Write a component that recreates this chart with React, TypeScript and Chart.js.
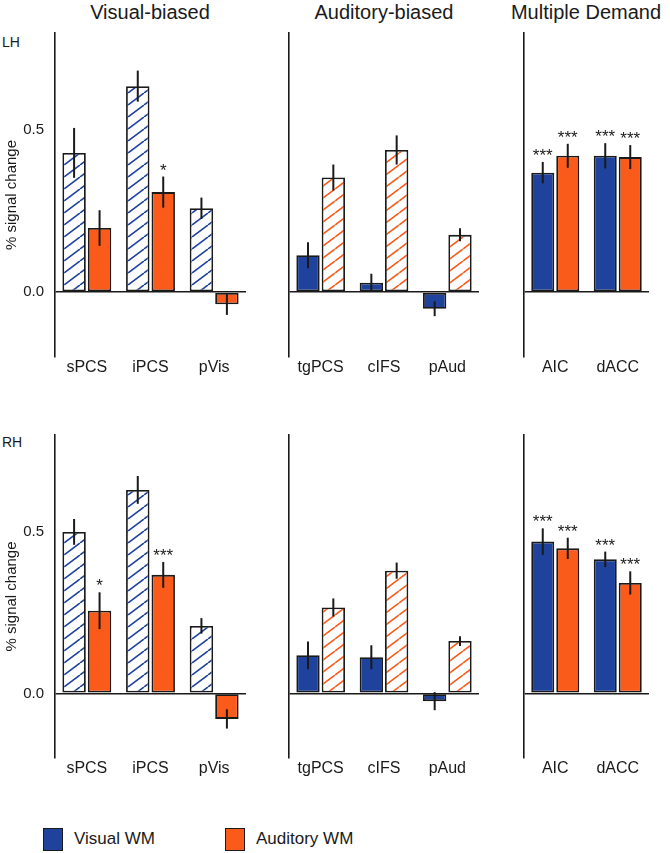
import React, { useEffect, useRef } from 'react';
import { Chart, registerables } from 'chart.js';

Chart.register(...registerables);

const BLUE = '#1f429d';
const ORANGE = '#fa5a1a';
const INK = '#1a1a1a';
const FONT = "'Liberation Sans', Arial, Helvetica, sans-serif";

// Categories
const visualCats = ['sPCS', 'iPCS', 'pVis'];
const auditoryCats = ['tgPCS', 'cIFS', 'pAud'];
const mdCats = ['AIC', 'dACC'];

// Y ticks shown
const yTickValues = [0, 0.5];
const yMin = -0.2;
const yMax = 0.8;

// LH – Visual-biased
const lhVisVisWM = [0.43, 0.636, 0.259];
const lhVisVisWMErr = [0.077, 0.048, 0.033];
const lhVisVisWMStars = ['', '', ''];
const lhVisAudWM = [0.198, 0.309, -0.037];
const lhVisAudWMErr = [0.055, 0.048, 0.033];
const lhVisAudWMStars = ['', '*', ''];

// LH – Auditory-biased
const lhAudVisWM = [0.114, 0.029, -0.051];
const lhAudVisWMErr = [0.04, 0.028, 0.023];
const lhAudVisWMStars = ['', '', ''];
const lhAudAudWM = [0.354, 0.439, 0.177];
const lhAudAudWMErr = [0.04, 0.045, 0.02];
const lhAudAudWMStars = ['', '', ''];

// LH – Multiple Demand
const lhMdVisWM = [0.369, 0.421];
const lhMdVisWMErr = [0.033, 0.039];
const lhMdVisWMStars = ['***', '***'];
const lhMdAudWM = [0.421, 0.417];
const lhMdAudWMErr = [0.037, 0.037];
const lhMdAudWMStars = ['***', '***'];

// RH – Visual-biased
const rhVisVisWM = [0.5, 0.63, 0.209];
const rhVisVisWMErr = [0.04, 0.043, 0.024];
const rhVisVisWMStars = ['', '', ''];
const rhVisAudWM = [0.256, 0.367, -0.079];
const rhVisAudWMErr = [0.057, 0.04, 0.03];
const rhVisAudWMStars = ['*', '***', ''];

// RH – Auditory-biased
const rhAudVisWM = [0.118, 0.112, -0.024];
const rhAudVisWMErr = [0.043, 0.037, 0.028];
const rhAudVisWMStars = ['', '', ''];
const rhAudAudWM = [0.266, 0.38, 0.162];
const rhAudAudWMErr = [0.028, 0.025, 0.015];
const rhAudAudWMStars = ['', '', ''];

// RH – Multiple Demand
const rhMdVisWM = [0.47, 0.415];
const rhMdVisWMErr = [0.041, 0.024];
const rhMdVisWMStars = ['***', '***'];
const rhMdAudWM = [0.449, 0.342];
const rhMdAudWMErr = [0.033, 0.036];
const rhMdAudWMStars = ['***', '***'];

function makeHatch(color: string): CanvasPattern | string {
  const c = document.createElement('canvas');
  c.width = 16;
  c.height = 12;
  const g = c.getContext('2d');
  if (!g) return color;
  g.fillStyle = '#ffffff';
  g.fillRect(0, 0, 16, 12);
  g.strokeStyle = color;
  g.lineWidth = 1.6;
  for (const dx of [-16, 0, 16]) {
    g.beginPath();
    g.moveTo(dx, 12);
    g.lineTo(dx + 16, 0);
    g.stroke();
  }
  return g.createPattern(c, 'repeat') || color;
}

const errorBarPlugin = {
  id: 'errorBars',
  afterDatasetsDraw(chart: any) {
    const { ctx } = chart;
    const y = chart.scales.y;
    chart.data.datasets.forEach((ds: any, di: number) => {
      const meta = chart.getDatasetMeta(di);
      meta.data.forEach((bar: any, i: number) => {
        const v = ds.data[i];
        const e = ds.errors ? ds.errors[i] : 0;
        const yTop = y.getPixelForValue(v + e);
        const yBot = y.getPixelForValue(v - e);
        ctx.save();
        ctx.strokeStyle = INK;
        ctx.lineWidth = 2;
        ctx.beginPath();
        ctx.moveTo(bar.x, yTop);
        ctx.lineTo(bar.x, yBot);
        ctx.stroke();
        const s = ds.stars ? ds.stars[i] : '';
        if (s) {
          ctx.fillStyle = INK;
          ctx.font = `17px ${FONT}`;
          ctx.textAlign = 'center';
          ctx.textBaseline = 'alphabetic';
          ctx.fillText(s, bar.x, yTop - 1);
        }
        ctx.restore();
      });
    });
  },
};

type PanelProps = {
  cats: string[];
  vis: number[];
  visErr: number[];
  visStars: string[];
  aud: number[];
  audErr: number[];
  audStars: string[];
  hatch: 'vis' | 'aud' | null;
  showY: boolean;
  left: number;
  top: number;
  width: number;
  height: number;
};

function Panel(p: PanelProps) {
  const ref = useRef<HTMLCanvasElement | null>(null);
  useEffect(() => {
    if (!ref.current) return;
    const chart = new Chart(ref.current, {
      type: 'bar',
      data: {
        labels: p.cats,
        datasets: [
          {
            label: 'Visual WM',
            data: p.vis,
            errors: p.visErr,
            stars: p.visStars,
            backgroundColor: p.hatch === 'vis' ? makeHatch(BLUE) : BLUE,
            borderColor: INK,
            borderWidth: 1.8,
            borderSkipped: false,
          } as any,
          {
            label: 'Auditory WM',
            data: p.aud,
            errors: p.audErr,
            stars: p.audStars,
            backgroundColor: p.hatch === 'aud' ? makeHatch(ORANGE) : ORANGE,
            borderColor: INK,
            borderWidth: 1.8,
            borderSkipped: false,
          } as any,
        ],
      },
      options: {
        responsive: false,
        animation: false,
        layout: { padding: { left: 2, right: 2, top: 24, bottom: 0 } },
        plugins: { legend: { display: false }, tooltip: { enabled: false } },
        datasets: { bar: { categoryPercentage: 0.8, barPercentage: 0.92 } },
        scales: {
          x: {
            grid: { display: false, drawTicks: false },
            border: { display: false },
            ticks: {
              color: INK,
              font: { size: 16, family: FONT },
              padding: 1,
              autoSkip: false,
              maxRotation: 0,
              minRotation: 0,
            },
            afterFit: (s: any) => {
              s.height = 36;
            },
          },
          y: {
            min: yMin,
            max: yMax,
            afterBuildTicks: (s: any) => {
              s.ticks = yTickValues.map((v) => ({ value: v }));
            },
            ticks: {
              display: p.showY,
              padding: 11,
              color: INK,
              font: { size: 15, family: FONT },
              callback: (v: any) => Number(v).toFixed(1),
            },
            grid: {
              drawTicks: false,
              color: (c: any) => (c.tick && c.tick.value === 0 ? INK : 'rgba(0,0,0,0)'),
              lineWidth: 1.6,
            },
            border: { display: true, color: INK, width: 1.6 },
            title: {
              display: p.showY,
              text: '% signal change',
              color: INK,
              font: { size: 15, family: FONT },
              padding: { top: 1, bottom: 0 },
            },
            afterFit: (s: any) => {
              s.width = p.showY ? 53 : 0;
            },
          },
        },
      } as any,
      plugins: [errorBarPlugin],
    });
    return () => chart.destroy();
  }, []);
  return (
    <canvas
      ref={ref}
      width={p.width}
      height={p.height}
      style={{ position: 'absolute', left: p.left, top: p.top, width: p.width, height: p.height }}
    />
  );
}

const textStyle = (extra: any) => ({
  position: 'absolute' as const,
  fontFamily: FONT,
  color: INK,
  whiteSpace: 'nowrap' as const,
  ...extra,
});

export default function App() {
  const rows = [
    {
      top: 9,
      height: 384,
      label: 'LH',
      labelTop: 34,
      panels: [
        { cats: visualCats, vis: lhVisVisWM, visErr: lhVisVisWMErr, visStars: lhVisVisWMStars, aud: lhVisAudWM, audErr: lhVisAudWMErr, audStars: lhVisAudWMStars, hatch: 'vis' },
        { cats: auditoryCats, vis: lhAudVisWM, visErr: lhAudVisWMErr, visStars: lhAudVisWMStars, aud: lhAudAudWM, audErr: lhAudAudWMErr, audStars: lhAudAudWMStars, hatch: 'aud' },
        { cats: mdCats, vis: lhMdVisWM, visErr: lhMdVisWMErr, visStars: lhMdVisWMStars, aud: lhMdAudWM, audErr: lhMdAudWMErr, audStars: lhMdAudWMStars, hatch: null },
      ],
    },
    {
      top: 411,
      height: 383,
      label: 'RH',
      labelTop: 434,
      panels: [
        { cats: visualCats, vis: rhVisVisWM, visErr: rhVisVisWMErr, visStars: rhVisVisWMStars, aud: rhVisAudWM, audErr: rhVisAudWMErr, audStars: rhVisAudWMStars, hatch: 'vis' },
        { cats: auditoryCats, vis: rhAudVisWM, visErr: rhAudVisWMErr, visStars: rhAudVisWMStars, aud: rhAudAudWM, audErr: rhAudAudWMErr, audStars: rhAudAudWMStars, hatch: 'aud' },
        { cats: mdCats, vis: rhMdVisWM, visErr: rhMdVisWMErr, visStars: rhMdVisWMStars, aud: rhMdAudWM, audErr: rhMdAudWMErr, audStars: rhMdAudWMStars, hatch: null },
      ],
    },
  ];
  const cols = [
    { left: 0, width: 248 },
    { left: 287, width: 194 },
    { left: 522, width: 129 },
  ];
  const titles = [
    { text: 'Visual-biased', cx: 150 },
    { text: 'Auditory-biased', cx: 384 },
    { text: 'Multiple Demand', cx: 586 },
  ];
  return (
    <div style={{ position: 'absolute', left: 0, top: 0, width: 670, height: 853, background: '#fff', overflow: 'hidden' }}>
      {titles.map((t) => (
        <div key={t.text} style={textStyle({ left: t.cx, top: 2, fontSize: 20, lineHeight: '21px', transform: 'translateX(-50%)' })}>
          {t.text}
        </div>
      ))}
      {rows.map((r, ri) => (
        <React.Fragment key={ri}>
          <div style={textStyle({ left: 2, top: r.labelTop, fontSize: 14, lineHeight: '16px' })}>{r.label}</div>
          {r.panels.map((pp, pi) => (
            <Panel
              key={pi}
              {...(pp as any)}
              showY={pi === 0}
              left={cols[pi].left}
              width={cols[pi].width}
              top={r.top}
              height={r.height}
            />
          ))}
        </React.Fragment>
      ))}
      <div style={{ position: 'absolute', left: 43, top: 828, width: 18, height: 21, background: BLUE, border: `1px solid ${INK}` }} />
      <div style={textStyle({ left: 74, top: 829, fontSize: 17, lineHeight: '20px' })}>Visual WM</div>
      <div style={{ position: 'absolute', left: 225, top: 828, width: 18, height: 21, background: ORANGE, border: `1px solid ${INK}` }} />
      <div style={textStyle({ left: 256, top: 829, fontSize: 17, lineHeight: '20px' })}>Auditory WM</div>
    </div>
  );
}
